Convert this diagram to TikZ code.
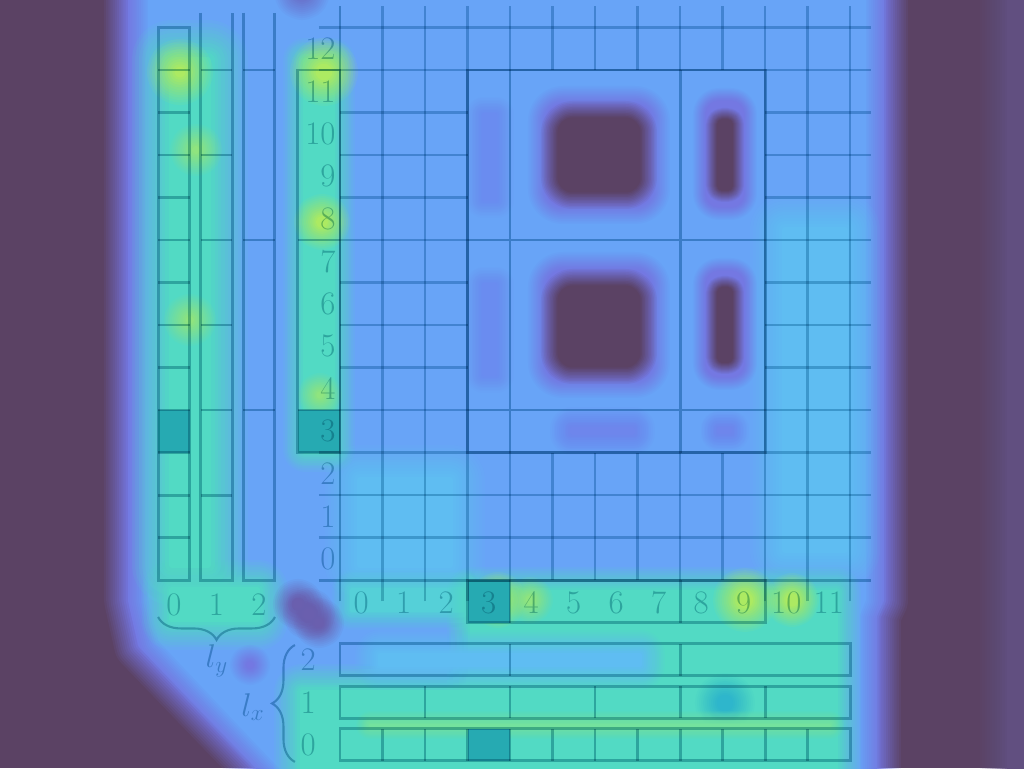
\documentclass[tikz,border=0pt]{standalone}
\usepackage{fix-cm}
\usetikzlibrary{decorations.pathreplacing}
\definecolor{bgp}{HTML}{5B4264}
\definecolor{rp}{HTML}{614F80}
\definecolor{hb}{HTML}{68A4F7}
\definecolor{hv}{HTML}{7478E2}
\definecolor{hlv}{HTML}{6E86EC}
\definecolor{hfv}{HTML}{6A8CF0}
\definecolor{hc}{HTML}{5FBDF2}
\definecolor{hg}{HTML}{52DAC4}
\definecolor{hgc}{HTML}{55D0D8}
\definecolor{hy}{HTML}{ACEA62}
\definecolor{hyl}{HTML}{8FE47F}
\definecolor{hyb}{HTML}{74E29E}
\definecolor{ht}{HTML}{2EB6CC}
\definecolor{hpv}{HTML}{6A5FAE}
\definecolor{htop}{HTML}{6A6FC8}
\definecolor{hilite}{HTML}{26AAB2}
\definecolor{lnc}{HTML}{8FC2CE}
\definecolor{lng}{HTML}{A2CDD8}
\newcommand\heat[3]{%
  \foreach \hk in {1,...,12}{%
    \pgfmathsetmacro\hw{#2*(13-\hk)/6*0.66941}%
    \pgfmathsetmacro\ha{1/(13-\hk)}%
    \draw[#1,opacity=\ha,line width=\hw pt,line join=round] #3;%
  }%
  \fill[#1] #3;%
}
\begin{document}
\begin{tikzpicture}[
  gl/.style={line width=1.4pt, draw=lng},
  bx/.style={line width=2pt},
  brc/.style={line width=1.4pt, decorate},
  lbl/.style={font=\fontsize{22}{26}\selectfont, inner sep=0pt}]
\useasboundingbox (-8,-4.4235) rectangle (16.0941,13.6471);
\clip (-8,-4.4235) rectangle (16.0941,13.6471);
\fill[bgp] (-8,-4.4235) rectangle (16.0941,13.6471);
% ---------- heat overlay (pixel coordinates) ----------
\begin{scope}[shift={(-8,13.6471)}, x=0.0235294cm, y=-0.0235294cm]
 \heat{rp}{30}{(1010,-60) rectangle (1100,830)}
 \heat{hv}{26}{(130,-60) -- (882,-60) -- (882,600) -- (875,615) -- (875,830) -- (318,830) -- (140,645) -- (130,600) -- cycle}
 \heat{hb}{22}{(150,-60) -- (864,-60) -- (864,600) -- (858,615) -- (858,830) -- (340,830) -- (160,640) -- (150,600) -- cycle}
 \heat{hc}{35}{(785,230) rectangle (845,550)}
 \heat{hc}{35}{(360,480) rectangle (450,565)}
 \heat{hg}{40}{(172,60) rectangle (208,565)}
 \heat{hg}{30}{(172,590) rectangle (258,620)}
 \heat{hg}{22}{(305,60) rectangle (333,450)}
 \heat{hgc}{20}{(352,590) rectangle (462,610)}
 \heat{hg}{25}{(472,592) rectangle (836,830)}
 \heat{hg}{28}{(302,692) rectangle (480,830)}
 \heat{hc}{25}{(380,655) rectangle (640,665)}
 \heat{ht}{24}{(725,703) circle[radius=6]}
 \heat{hy}{30}{(180,72) circle[radius=3]}
 \heat{hy}{28}{(324,72) circle[radius=6]}
 \heat{hy}{24}{(322,222) circle[radius=4]}
 \heat{hyl}{20}{(320,395) circle[radius=2]}
 \heat{hyl}{24}{(196,150) circle[radius=2]}
 \heat{hyl}{24}{(190,320) circle[radius=2]}
 \heat{hy}{24}{(498,600) circle[radius=4]}
 \heat{hyl}{20}{(530,600) circle[radius=3]}
 \heat{hy}{26}{(745,600) circle[radius=6]}
 \heat{hy}{22}{(792,600) circle[radius=5]}
 \heat{hyb}{14}{(370,725) rectangle (830,725.5)}
 \heat{hv}{20}{[rounded corners=10pt] (548,106) rectangle (650,204)}
 \heat{bgp}{18}{[rounded corners=9pt] (559,119) rectangle (639,191)}
 \heat{hv}{14}{[rounded corners=8pt] (707,102) rectangle (743,206)}
 \heat{bgp}{12}{[rounded corners=3pt] (718,120) rectangle (732,190)}
 \heat{hv}{20}{[rounded corners=10pt] (548,272) rectangle (650,378)}
 \heat{bgp}{18}{[rounded corners=9pt] (559,287) rectangle (639,366)}
 \heat{hv}{14}{[rounded corners=8pt] (707,272) rectangle (743,376)}
 \heat{bgp}{12}{[rounded corners=3pt] (718,288) rectangle (732,362)}
 \heat{hlv}{22}{(572,429) rectangle (633,433)}
 \heat{hlv}{18}{(719,429) rectangle (731,433)}
 \heat{hfv}{18}{(484,115) rectangle (496,200)}
 \heat{hfv}{18}{(484,285) rectangle (496,375)}
 \heat{htop}{24}{(302,-8) circle[radius=4]}
 \heat{hpv}{22}{(298,604) circle[radius=3]}
 \heat{hpv}{22}{(309,614) circle[radius=4]}
 \heat{hpv}{22}{(319,623) circle[radius=3]}
 \heat{hv}{18}{(250,665) circle[radius=2]}
\end{scope}
% ---------- highlighted cells ----------
\fill[hilite] (-4.28,3) rectangle (-3.53,4);
\fill[hilite] (-1,3) rectangle (0,4);
\fill[hilite] (3,-1) rectangle (4,0);
\fill[hilite] (3,-4.25) rectangle (4,-3.5);
% ---------- diagram ----------
\begin{scope}[blend mode=multiply, draw=lnc, text=lnc]
 % grid
 \foreach \i in {1,2,3,10,11,12} \draw[gl] (\i,-0.5) -- (\i,13.5);
 \foreach \i in {4,...,9} {\draw[gl] (\i,0) -- (\i,3); \draw[gl] (\i,12) -- (\i,13.5);}
 \foreach \j in {1,2,3,12,13} \draw[gl] (-0.5,\j) -- (12.5,\j);
 \foreach \j in {4,...,11} {\draw[gl] (0,\j) -- (3,\j); \draw[gl] (10,\j) -- (12.5,\j);}
 \draw[bx] (0,-0.5) -- (0,13.5);
 \draw[bx] (-0.5,0) -- (12.5,0);
 % main box
 \draw[bx] (3,3) rectangle (10,12);
 \draw[bx] (4,3) -- (4,12) (8,3) -- (8,12) (3,4) -- (10,4) (3,8) -- (10,8);
 % y label box
 \draw[bx] (-1,3) rectangle (0,12);
 \draw[bx] (-1,4) -- (0,4) (-1,8) -- (0,8);
 % x label box
 \draw[bx] (3,-1) rectangle (10,0);
 \draw[bx] (4,-1) -- (4,0) (8,-1) -- (8,0);
 % left columns
 \draw[bx] (-4.28,0) rectangle (-3.53,13);
 \foreach \j in {1,...,12} \draw[bx] (-4.28,\j) -- (-3.53,\j);
 \draw[bx] (-3.28,13.35) -- (-3.28,0) -- (-2.53,0) -- (-2.53,13.35);
 \foreach \j in {2,4,...,12} \draw[bx] (-3.28,\j) -- (-2.53,\j);
 \draw[bx] (-2.28,13.35) -- (-2.28,0) -- (-1.53,0) -- (-1.53,13.35);
 \foreach \j in {4,8,12} \draw[bx] (-2.28,\j) -- (-1.53,\j);
 % bottom rows
 \draw[bx] (0,-2.25) rectangle (12,-1.5);
 \foreach \i in {4,8} \draw[bx] (\i,-2.25) -- (\i,-1.5);
 \draw[bx] (0,-3.25) rectangle (12,-2.5);
 \foreach \i in {2,4,...,10} \draw[bx] (\i,-3.25) -- (\i,-2.5);
 \draw[bx] (0,-4.25) rectangle (12,-3.5);
 \foreach \i in {1,...,11} \draw[bx] (\i,-4.25) -- (\i,-3.5);
 % labels
 \foreach \k in {0,...,12} \node[lbl, anchor=east] (ylab\k) at (-0.1,\k+0.5) {\k};
 \foreach \k in {0,...,11} \node[lbl] (xlab\k) at (\k+0.5,-0.54) {\k};
 \node[lbl] (cl0) at (-3.905,-0.59) {0};
 \node[lbl] (cl1) at (-2.905,-0.59) {1};
 \node[lbl] (cl2) at (-1.905,-0.59) {2};
 \node[lbl] (rl2) at (-0.75,-1.875) {2};
 \node[lbl] (rl1) at (-0.75,-2.875) {1};
 \node[lbl] (rl0) at (-0.75,-3.875) {0};
 \draw[brc, decoration={brace, amplitude=0.54cm, mirror}] (-4.28,-0.87) -- (-1.53,-0.87);
 \node[lbl] (ly) at (-2.9,-1.9) {$l_y$};
 \draw[brc, decoration={brace, amplitude=0.54cm}] (-1.06,-4.28) -- (-1.06,-1.53);
 \node[lbl] (lx) at (-2.05,-2.99) {$l_x$};
\end{scope}
\end{tikzpicture}
\end{document}
